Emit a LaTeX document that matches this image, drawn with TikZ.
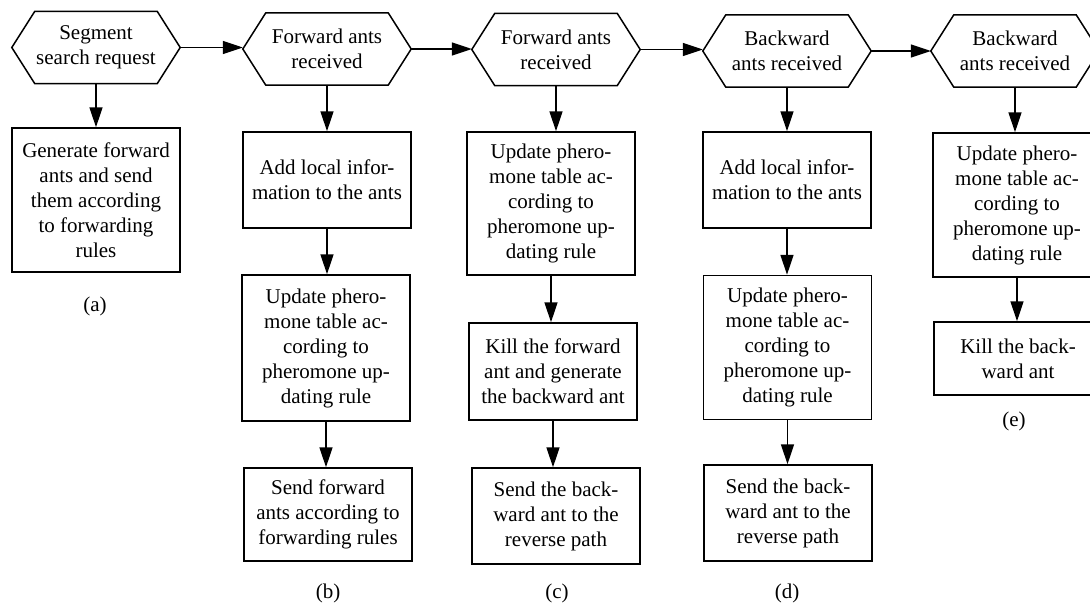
\documentclass[tikz,border=0pt]{standalone}
\usepackage{fontspec}
\setmainfont{Liberation Serif}
\usetikzlibrary{arrows.meta}
\tikzset{
  every node/.style={font=\fontsize{21}{25}\selectfont, align=center, inner sep=0pt},
  hexnode/.style={minimum width=168pt, minimum height=72pt},
  boxnode/.style={draw, line width=1.5pt, minimum width=168pt},
  hexline/.style={line width=1.5pt, line join=miter},
  flow/.style={line width=1.5pt, -{Triangle[length=20pt, width=13pt]}},
  sublabel/.style={}
}
\begin{document}
\begin{tikzpicture}[x=1pt, y=-1pt]
\useasboundingbox (0,0) rectangle (1090,605);
\clip (0,0) rectangle (1090,605);
% hexagons
\node[hexnode] (ha) at (96,47.5) {Segment\\search request};
\node[hexnode] (hb) at (327,49) {Forward ants\\received};
\node[hexnode] (hc) at (556,49.5) {Forward ants\\received};
\node[hexnode] (hd) at (787,51) {Backward\\ants received};
\node[hexnode] (he) at (1015,51) {Backward\\ants received};
\foreach \h in {ha,hb,hc,hd,he}{
  \draw[hexline] (\h.west) -- ([xshift=23pt]\h.north west) -- ([xshift=-23pt]\h.north east)
    -- (\h.east) -- ([xshift=-23pt]\h.south east) -- ([xshift=23pt]\h.south west) -- cycle;
}
% boxes
\node[boxnode, minimum height=144pt] (a1) at (96,200) {Generate forward\\ants and send\\them according\\to forwarding\\rules};
\node[boxnode, minimum height=96pt] (b1) at (327,180) {Add local infor-\\mation to the ants};
\node[boxnode, minimum height=146pt] (b2) at (326,348) {Update phero-\\mone table ac-\\cording to\\pheromone up-\\dating rule};
\node[boxnode, minimum height=93pt] (b3) at (328,514.5) {Send forward\\ants according to\\forwarding rules};
\node[boxnode, minimum height=143pt] (c1) at (551,203.5) {Update phero-\\mone table ac-\\cording to\\pheromone up-\\dating rule};
\node[boxnode, minimum height=97pt] (c2) at (553,371.5) {Kill the forward\\ant and generate\\the backward ant};
\node[boxnode, minimum height=96pt] (c3) at (556,516) {Send the back-\\ward ant to the\\reverse path};
\node[boxnode, minimum height=96pt] (d1) at (787,180) {Add local infor-\\mation to the ants};
\node[boxnode, minimum height=144pt] (d2) at (787.5,347.5) {Update phero-\\mone table ac-\\cording to\\pheromone up-\\dating rule};
\node[boxnode, minimum height=96pt] (d3) at (788,513) {Send the back-\\ward ant to the\\reverse path};
\node[boxnode, minimum height=144pt] (e1) at (1017,205) {Update phero-\\mone table ac-\\cording to\\pheromone up-\\dating rule};
\node[boxnode, minimum height=73pt] (e2) at (1018,358.5) {Kill the back-\\ward ant};
% labels
\node[sublabel] (la) at (95,306) {(a)};
\node[sublabel] (lb) at (328,593) {(b)};
\node[sublabel] (lc) at (557,593) {(c)};
\node[sublabel] (ld) at (787,593) {(d)};
\node[sublabel] (le) at (1014,421) {(e)};
% horizontal arrows
\draw[flow] (ha.east) -- (ha.east -| hb.west);
\draw[flow] (hb.east) -- (hb.east -| hc.west);
\draw[flow] (hc.east) -- (hc.east -| hd.west);
\draw[flow] (hd.east) -- (hd.east -| he.west);
% vertical arrows
\draw[flow] (ha.south) -- (ha.south |- a1.north);
\draw[flow] (hb.south) -- (hb.south |- b1.north);
\draw[flow] (b1.south) -- (b1.south |- b2.north);
\draw[flow] (b2.south) -- (b2.south |- b3.north);
\draw[flow] (hc.south) -- (hc.south |- c1.north);
\draw[flow] (c1.south) -- (c1.south |- c2.north);
\draw[flow] (c2.south) -- (c2.south |- c3.north);
\draw[flow] (hd.south) -- (hd.south |- d1.north);
\draw[flow] (d1.south) -- (d1.south |- d2.north);
\draw[flow] (d2.south) -- (d2.south |- d3.north);
\draw[flow] (he.south) -- (he.south |- e1.north);
\draw[flow] (e1.south) -- (e1.south |- e2.north);
\end{tikzpicture}
\end{document}
